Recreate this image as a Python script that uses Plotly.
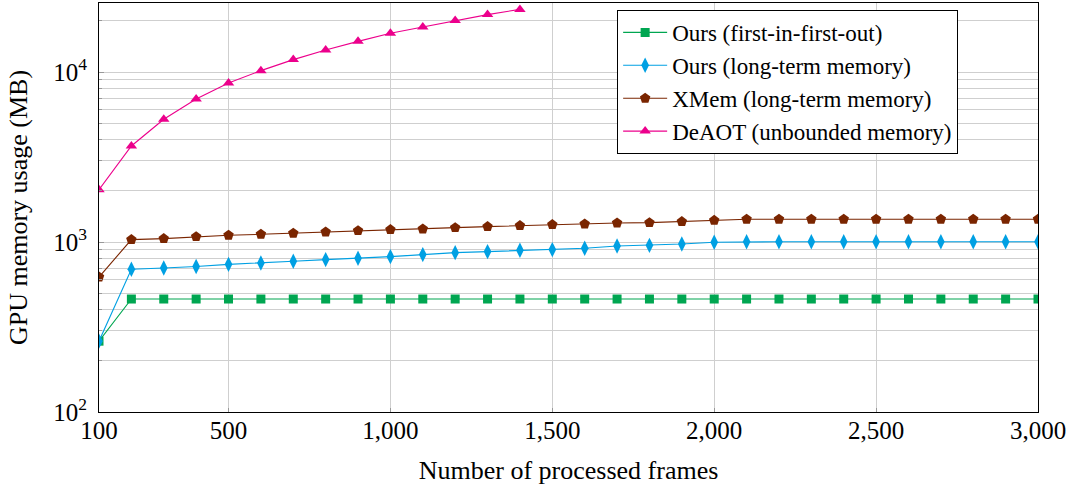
import plotly.graph_objects as go

frames = list(range(100, 3001, 100))
deaot_frames = list(range(100, 1401, 100))

ours_fifo = [261] + [462] * 29
ours_ltm = [261, 691, 703, 717, 739, 752, 770, 788, 802, 820,
            843, 866, 878, 894, 902, 918, 947, 956, 973, 996,
            1003, 1003, 1003, 1003, 1003, 1003, 1003, 1003, 1003, 1003]
xmem_ltm = [622, 1033, 1047, 1075, 1095, 1110, 1125, 1145, 1166, 1183,
            1192, 1215, 1232, 1249, 1266, 1276, 1294, 1300, 1318, 1341,
            1360, 1360, 1360, 1360, 1360, 1360, 1360, 1360, 1360, 1360]
deaot = [2032, 3673, 5272, 6940, 8616, 10190, 11830, 13470, 15150, 16890,
         18400, 20070, 21760, 23360]

names = ["Ours (first-in-first-out)", "Ours (long-term memory)",
         "XMem (long-term memory)", "DeAOT (unbounded memory)"]
colors = ["#00a651", "#00a0e3", "#7a2500", "#ec008c"]
symbols = ["square", "diamond-tall", "pentagon", "triangle-up"]
series = [(frames, ours_fifo), (frames, ours_ltm), (frames, xmem_ltm), (deaot_frames, deaot)]
msizes = [9, 11, 11, 10]

x_tickvals = [100, 500, 1000, 1500, 2000, 2500, 3000]
x_ticktext = ["100", "500", "1,000", "1,500", "2,000", "2,500", "3,000"]
y_tickvals = [100, 1000, 10000]
y_ticktext = ["10<sup>2</sup>", "10<sup>3</sup>", "10<sup>4</sup>"]
y_minor = [m * 10 ** e for e in (2, 3, 4) for m in range(2, 10) if m * 10 ** e < 26000]

fig = go.Figure()
for (xs, ys), n, c, s, ms in zip(series, names, colors, symbols, msizes):
    fig.add_trace(go.Scatter(x=xs, y=ys, name=n, mode="lines+markers",
                             line=dict(color=c, width=1.1),
                             marker=dict(color=c, symbol=s, size=ms, line=dict(width=0))))

font = "Liberation Serif"
fig.update_layout(
    width=1071, height=486,
    margin=dict(l=99, r=33, t=3, b=74),
    paper_bgcolor="white", plot_bgcolor="white",
    font=dict(family=font, size=24, color="black"),
    showlegend=True,
    legend=dict(x=0.5518, y=0.983, xanchor="left", yanchor="top",
                bgcolor="white", bordercolor="black", borderwidth=1,
                font=dict(family=font, size=23, color="black"),
                itemwidth=44, tracegroupgap=0),
    xaxis=dict(range=[100, 3000], tickvals=x_tickvals, ticktext=x_ticktext,
               showgrid=True, gridcolor="#cfcfcf", gridwidth=1,
               showline=True, linecolor="black", linewidth=1, mirror=True,
               ticks="inside", ticklen=4, tickcolor="#999999",
               zeroline=False, ticklabelstandoff=-4,
               title=dict(text="Number of processed frames", font=dict(size=26), standoff=17),
               tickfont=dict(size=25)),
    yaxis=dict(type="log", range=[2, 4.406], tickvals=y_tickvals, ticktext=y_ticktext,
               showgrid=True, gridcolor="#cfcfcf", gridwidth=1,
               showline=True, linecolor="black", linewidth=1, mirror=True,
               ticks="inside", ticklen=5, tickcolor="#999999",
               minor=dict(tickvals=y_minor, showgrid=True, gridcolor="#cfcfcf",
                          gridwidth=1, ticks="inside", ticklen=3, tickcolor="#999999"),
               zeroline=False, ticklabelstandoff=6,
               title=dict(text="GPU memory usage (MB)", font=dict(size=26), standoff=18),
               tickfont=dict(size=25)),
)

fig.write_html("out.html", config={"displayModeBar": False},
               post_script="document.body.style.margin='0';")
